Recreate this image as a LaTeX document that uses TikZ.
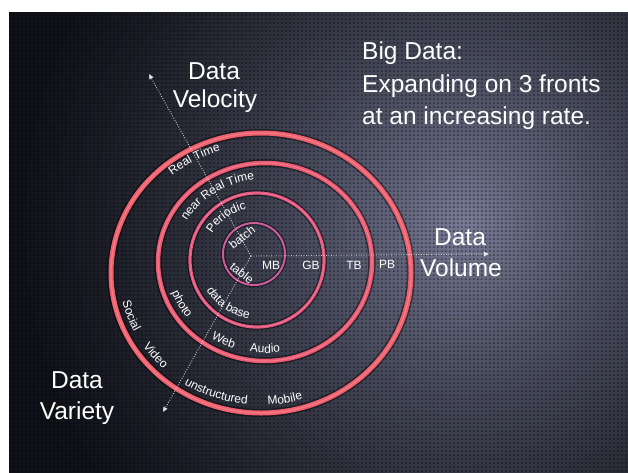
\documentclass[tikz,border=0pt]{standalone}
\usepackage{fontspec}
\setmainfont{Liberation Sans}
\usetikzlibrary{decorations.text, arrows.meta, patterns.meta}

\definecolor{ringA}{RGB}{238,96,110}
\definecolor{ringB}{RGB}{234,90,114}
\definecolor{ringC}{RGB}{226,86,128}
\definecolor{ringD}{RGB}{206,92,158}
\definecolor{ringHi}{RGB}{252,150,160}
\definecolor{bgA}{RGB}{120,124,150}
\definecolor{bgC}{RGB}{16,17,24}

\pgfdeclarepattern{name=holes, type=uncolored,
  bottom left={\pgfpoint{0pt}{0pt}}, top right={\pgfpoint{4.3pt}{4.3pt}},
  tile size={\pgfpoint{4.3pt}{4.3pt}},
  code={\pgfpathcircle{\pgfpoint{2.15pt}{2.15pt}}{1.3pt}\pgfusepath{fill}}}

\newcommand\titlefont{\fontsize{24.5}{29}\selectfont}
\newcommand\ringfont{\fontsize{12}{14}\selectfont}

% #1,#2 centre; #3,#4 radii; #5 start; #6 end; #7 text
\newcommand\ringlbl[7]{%
  \path[decorate, decoration={text along path, text={|\ringfont|#7},
    text align=center, text color=white}]
    (#1,#2) ++({#3*cos(#5)},{#4*sin(#5)})
    arc[start angle=#5, end angle=#6, x radius=#3, y radius=#4];}

\tikzset{
  titletext/.style={text=white, font=\titlefont, inner sep=0pt, anchor=base},
  titleleft/.style={text=white, font=\titlefont, inner sep=0pt, anchor=base west},
  scaletext/.style={text=white, font=\ringfont, inner sep=0pt},
  axisline/.style={draw=white, opacity=0.75, line width=0.9pt,
    dash pattern=on 0.9pt off 1.6pt, -{Triangle[length=5pt,width=4.5pt]}},
  ringshadow/.style={draw=black, opacity=0.45},
  ringhi/.style={draw=ringHi, opacity=0.55, line width=1.1pt}
}

\begin{document}
\begin{tikzpicture}[x=1pt,y=1pt]
\useasboundingbox (0,0) rectangle (628,-472);
% background
\fill[white] (0,0) rectangle (628,-472);
\begin{scope}
  \clip (9,-12) rectangle (628,-472);
  \fill[bgC] (9,-12) rectangle (628,-472);
  \foreach \r in {560,550,...,10} {
    \pgfmathsetmacro\u{max(0.001,1-\r/470)}
    \pgfmathsetmacro\t{min(100,100*\u^1.4)}
    \fill[bgA!\t!bgC] (465,-225) circle (\r);
  }
  \fill[pattern=holes, pattern color=black, opacity=0.4] (9,-12) rectangle (628,-472);
\end{scope}

% centres
\coordinate (c1) at (254,-254);
\coordinate (c2) at (257,-260);
\coordinate (c3) at (265,-262);
\coordinate (c4) at (261,-273);

% rings
\draw[ringshadow, line width=8pt] (c4) ellipse [x radius=150, y radius=140];
\draw[ringshadow, line width=7.5pt] (c3) ellipse [x radius=107, y radius=99];
\draw[ringshadow, line width=6pt] (c2) circle (67);
\draw[ringshadow, line width=4.5pt] (c1) circle (31);
\draw[ringA, line width=5pt] (c4) ellipse [x radius=150, y radius=140];
\draw[ringB, line width=4.5pt] (c3) ellipse [x radius=107, y radius=99];
\draw[ringC, line width=3.2pt] (c2) circle (67);
\draw[ringD, line width=2pt] (c1) circle (31);
\draw[ringhi] (c4) ellipse [x radius=150, y radius=140];
\draw[ringhi] (c3) ellipse [x radius=107, y radius=99];
\draw[ringhi, line width=0.8pt] (c2) circle (67);

% axes
\coordinate (o) at (251,-256);
\coordinate (velEnd) at (149,-74);
\coordinate (volEnd) at (489,-254);
\coordinate (varEnd) at (163,-412);
\draw[axisline] (o) -- (velEnd);
\draw[axisline] (o) -- (volEnd);
\draw[axisline] (o) -- (varEnd);

% titles
\node[titleleft] (bd1) at (362,-59) {Big Data:};
\node[titleleft] (bd2) at (362,-92) {Expanding on 3 fronts};
\node[titleleft] (bd3) at (362,-124) {at an increasing rate.};
\node[titletext] (vel1) at (214,-79) {Data};
\node[titletext] (vel2) at (215,-107) {Velocity};
\node[titletext] (vol1) at (460,-245) {Data};
\node[titletext] (vol2) at (461,-276) {Volume};
\node[titletext] (var1) at (77,-388) {Data};
\node[titletext] (var2) at (77,-419) {Variety};

% volume scale
\node[scaletext] (mb) at (271,-265) {MB};
\node[scaletext] (gb) at (311,-265) {GB};
\node[scaletext] (tb) at (354,-265) {TB};
\node[scaletext] (pb) at (387,-264) {PB};

% innermost labels
\node[scaletext, rotate=38] (batch) at (242,-237) {batch};
\node[scaletext, rotate=-38] (table) at (242,-273) {table};

% velocity labels (clockwise, upper side)
\ringlbl{257}{-260}{52}{52}{175.6}{75.6}{Periodic}
\ringlbl{265}{-262}{90}{83}{164}{84}{near Real Time}
\ringlbl{261}{-273}{137}{128}{144}{94}{Real Time}

% variety labels (counter-clockwise, lower side)
\ringlbl{257}{-260}{59}{59}{196.6}{276.6}{data base}
\ringlbl{265}{-262}{99}{91}{183.5}{233.5}{photo}
\ringlbl{265}{-262}{99}{91}{219}{269}{Web}
\ringlbl{265}{-262}{99}{91}{245}{295}{Audio}
\ringlbl{261}{-273}{142}{132}{179.5}{219.5}{Social}
\ringlbl{261}{-273}{142}{132}{200}{240}{Video}
\ringlbl{261}{-273}{142}{132}{225.7}{275.7}{unstructured}
\ringlbl{261}{-273}{142}{132}{260}{300}{Mobile}
\end{tikzpicture}
\end{document}
